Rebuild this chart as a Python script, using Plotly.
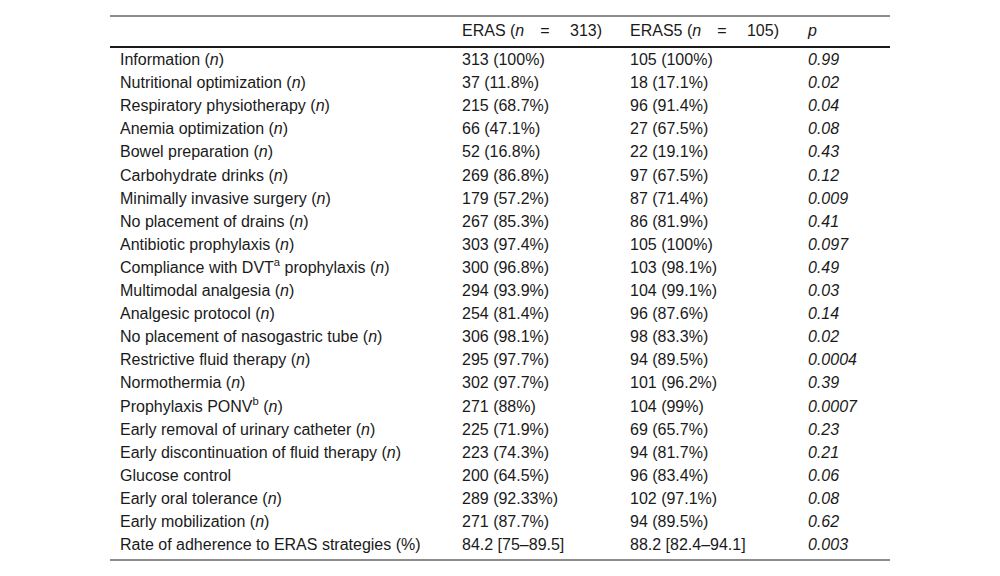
import plotly.graph_objects as go

# %%
ITEMS = ['Information (<i>n</i>)',
         'Nutritional optimization (<i>n</i>)',
         'Respiratory physiotherapy (<i>n</i>)',
         'Anemia optimization (<i>n</i>)',
         'Bowel preparation (<i>n</i>)',
         'Carbohydrate drinks (<i>n</i>)',
         'Minimally invasive surgery (<i>n</i>)',
         'No placement of drains (<i>n</i>)',
         'Antibiotic prophylaxis (<i>n</i>)',
         'Compliance with DVT<sup>a</sup> prophylaxis (<i>n</i>)',
         'Multimodal analgesia (<i>n</i>)',
         'Analgesic protocol (<i>n</i>)',
         'No placement of nasogastric tube (<i>n</i>)',
         'Restrictive fluid therapy (<i>n</i>)',
         'Normothermia (<i>n</i>)',
         'Prophylaxis PONV<sup>b</sup> (<i>n</i>)',
         'Early removal of urinary catheter (<i>n</i>)',
         'Early discontinuation of fluid therapy (<i>n</i>)',
         'Glucose control',
         'Early oral tolerance (<i>n</i>)',
         'Early mobilization (<i>n</i>)',
         'Rate of adherence to ERAS strategies (%)']

ERAS = ['313 (100%)', '37 (11.8%)', '215 (68.7%)', '66 (47.1%)', '52 (16.8%)',
        '269 (86.8%)', '179 (57.2%)', '267 (85.3%)', '303 (97.4%)', '300 (96.8%)',
        '294 (93.9%)', '254 (81.4%)', '306 (98.1%)', '295 (97.7%)', '302 (97.7%)',
        '271 (88%)', '225 (71.9%)', '223 (74.3%)', '200 (64.5%)', '289 (92.33%)',
        '271 (87.7%)', '84.2 [75–89.5]']

ERAS5 = ['105 (100%)', '18 (17.1%)', '96 (91.4%)', '27 (67.5%)', '22 (19.1%)',
         '97 (67.5%)', '87 (71.4%)', '86 (81.9%)', '105 (100%)', '103 (98.1%)',
         '104 (99.1%)', '96 (87.6%)', '98 (83.3%)', '94 (89.5%)', '101 (96.2%)',
         '104 (99%)', '69 (65.7%)', '94 (81.7%)', '96 (83.4%)', '102 (97.1%)',
         '94 (89.5%)', '88.2 [82.4–94.1]']

P_VALUES = ['0.99', '0.02', '0.04', '0.08', '0.43', '0.12', '0.009', '0.41',
            '0.097', '0.49', '0.03', '0.14', '0.02', '0.0004', '0.39', '0.0007',
            '0.23', '0.21', '0.06', '0.08', '0.62', '0.003']

HEADER = ['',
          'ERAS (<i>n</i>\u2003=\u2003 313)',
          'ERAS5 (<i>n</i>\u2003=\u2003 105)',
          '<i>p</i>']

# %%
FONT = dict(family='Liberation Sans, Arial, sans-serif', size=16, color='#1a1a1a')
COL_X = [120, 462, 630, 808]   # left edge of each column's text
ROW_H = 23.1                   # pixels per table row
TOP_ROW_PX = 61                # pixel centre of the first body row
HEADER_ROW = -1.25             # header sits a bit higher than one row step
LINE_PX = [16, 47, 560]        # top rule, header rule, bottom rule
LINE_Y = [(p - TOP_ROW_PX) / ROW_H for p in LINE_PX]

rows = list(range(len(ITEMS)))
columns = [ITEMS, ERAS, ERAS5, ['<i>%s</i>' % p for p in P_VALUES]]

fig = go.Figure()
for x, col, head in zip(COL_X, columns, HEADER):
    fig.add_trace(go.Scatter(x=[x] * (len(col) + 1), y=rows + [HEADER_ROW],
                             text=col + [head], mode='text',
                             textposition='middle right', textfont=FONT,
                             hoverinfo='skip', showlegend=False))

for y, w in zip(LINE_Y, [1, 2, 1]):
    fig.add_shape(type='line', xref='x', yref='y', x0=110, x1=890, y0=y, y1=y,
                  line=dict(color='#1a1a1a', width=w))

fig.update_xaxes(range=[0, 1000], visible=False)
fig.update_yaxes(range=[(576 - TOP_ROW_PX) / ROW_H, -TOP_ROW_PX / ROW_H],
                 visible=False)
fig.update_layout(width=1000, height=576, margin=dict(l=0, r=0, t=0, b=0),
                  paper_bgcolor='white', plot_bgcolor='white')
fig.write_html("out.html", config={'displayModeBar': False},
               post_script="document.body.style.margin = '0';")
